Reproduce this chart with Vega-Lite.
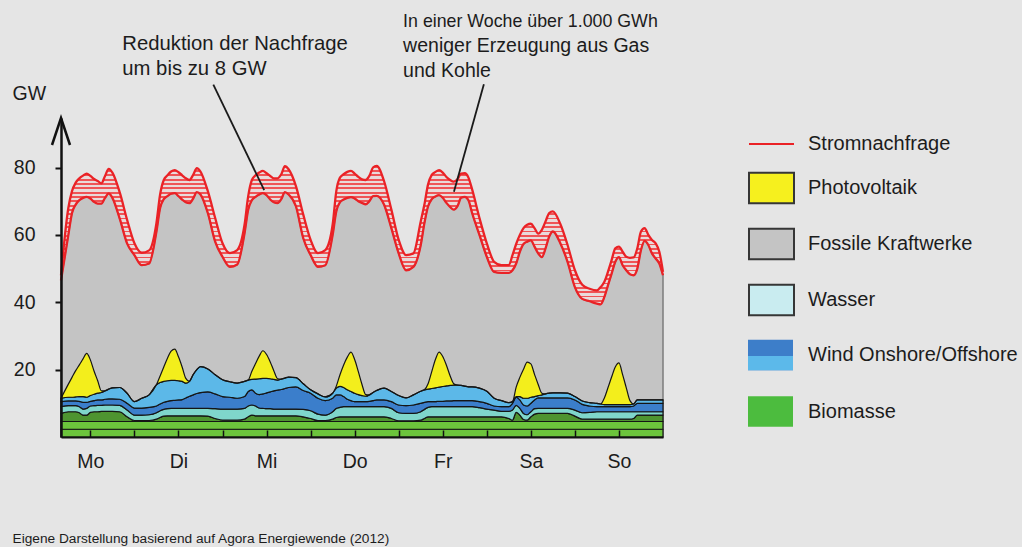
{
"$schema":"https://vega.github.io/schema/vega-lite/v6.json",
"width":602,"height":319,
"autosize":{"type":"none"},
"padding":{"left":61,"top":118,"right":359,"bottom":110},
"background":"#e5e5e5",
"config":{"view":{"stroke":null},"font":"Liberation Sans","axis":{"labelFont":"Liberation Sans","titleFont":"Liberation Sans","grid":false},"legend":{"labelFont":"Liberation Sans","labelLimit":400}},
"resolve":{"scale":{"color":"independent"}},
"datasets":{
"gen":[
{"h":4,"d":48,"r":46.5,"bio1":2.3,"bio2":2.3,"bio3":2.4,"hydro":2,"land":1.5,"offshore":1,"pv":0},
{"h":6,"d":68,"r":60,"bio1":2.3,"bio2":2.3,"bio3":2.9,"hydro":1.8,"land":1.4,"offshore":1.1,"pv":3.9},
{"h":7,"d":73,"r":66.5,"bio1":2.3,"bio2":2.3,"bio3":2.9,"hydro":1.8,"land":1.4,"offshore":1.1,"pv":5.9},
{"h":8,"d":75.5,"r":69,"bio1":2.3,"bio2":2.3,"bio3":2.9,"hydro":1.8,"land":1.4,"offshore":1.2,"pv":7.8},
{"h":9,"d":76.8,"r":70.3,"bio1":2.3,"bio2":2.3,"bio3":2.6,"hydro":1.8,"land":1.6,"offshore":1.4,"pv":9.4},
{"h":10,"d":77.6,"r":71,"bio1":2.3,"bio2":2.3,"bio3":1.9,"hydro":1.8,"land":2,"offshore":1.7,"pv":11.2},
{"h":11,"d":78.2,"r":71.3,"bio1":2.3,"bio2":2.3,"bio3":1.9,"hydro":2,"land":1.8,"offshore":1.5,"pv":13},
{"h":12,"d":77.5,"r":70.8,"bio1":2.3,"bio2":2.3,"bio3":2.7,"hydro":1.9,"land":1.4,"offshore":1.7,"pv":10.6},
{"h":13,"d":76.6,"r":69.8,"bio1":2.3,"bio2":2.3,"bio3":2.9,"hydro":1.8,"land":1.5,"offshore":1.9,"pv":6.9},
{"h":14,"d":76,"r":69.3,"bio1":2.3,"bio2":2.3,"bio3":2.9,"hydro":1.9,"land":1.6,"offshore":2,"pv":3.7},
{"h":15,"d":75.3,"r":69.3,"bio1":2.3,"bio2":2.3,"bio3":3,"hydro":1.8,"land":1.6,"offshore":2.2,"pv":0.5},
{"h":16,"d":77.5,"r":71,"bio1":2.3,"bio2":2.3,"bio3":3,"hydro":1.9,"land":1.7,"offshore":2.5,"pv":0},
{"h":17,"d":79.6,"r":72.3,"bio1":2.3,"bio2":2.3,"bio3":3,"hydro":1.9,"land":1.8,"offshore":2.9,"pv":0},
{"h":18,"d":78.5,"r":71,"bio1":2.3,"bio2":2.3,"bio3":3,"hydro":1.9,"land":1.8,"offshore":3.3,"pv":0},
{"h":20,"d":72.6,"r":64.8,"bio1":2.3,"bio2":2.3,"bio3":2.9,"hydro":1.9,"land":1.8,"offshore":3.5,"pv":0},
{"h":22,"d":64.5,"r":57.5,"bio1":2.3,"bio2":2.3,"bio3":1.4,"hydro":2,"land":2,"offshore":3,"pv":0},
{"h":24,"d":57.5,"r":54,"bio1":2.3,"bio2":2.3,"bio3":0.3,"hydro":1.6,"land":2.1,"offshore":1.9,"pv":0},
{"h":26,"d":54.7,"r":51,"bio1":2.3,"bio2":2.3,"bio3":0.3,"hydro":1.6,"land":2.1,"offshore":2.9,"pv":0},
{"h":28,"d":55.4,"r":51.5,"bio1":2.3,"bio2":2.3,"bio3":0.3,"hydro":1.7,"land":2.2,"offshore":3.7,"pv":0},
{"h":30,"d":63.5,"r":61,"bio1":2.3,"bio2":2.3,"bio3":0.7,"hydro":1.9,"land":2,"offshore":6.3,"pv":0},
{"h":31,"d":72,"r":68,"bio1":2.3,"bio2":2.3,"bio3":1.2,"hydro":2,"land":2,"offshore":6.4,"pv":1.9},
{"h":32,"d":76.3,"r":70.6,"bio1":2.3,"bio2":2.3,"bio3":1.6,"hydro":2,"land":2.1,"offshore":6.2,"pv":4.3},
{"h":33,"d":77.7,"r":71.5,"bio1":2.3,"bio2":2.3,"bio3":1.7,"hydro":2.1,"land":2.2,"offshore":6.1,"pv":6.7},
{"h":34,"d":78.8,"r":72.2,"bio1":2.3,"bio2":2.3,"bio3":1.7,"hydro":2.2,"land":2.3,"offshore":6,"pv":8.7},
{"h":35,"d":79.2,"r":72.4,"bio1":2.3,"bio2":2.3,"bio3":1.7,"hydro":2.2,"land":2.4,"offshore":5.9,"pv":9.3},
{"h":36,"d":78.6,"r":71.5,"bio1":2.3,"bio2":2.3,"bio3":1.7,"hydro":2.2,"land":2.5,"offshore":5.7,"pv":7.1},
{"h":37,"d":77.7,"r":70.5,"bio1":2.3,"bio2":2.3,"bio3":1.7,"hydro":2.2,"land":2.6,"offshore":5.4,"pv":4.3},
{"h":38,"d":76.8,"r":69.7,"bio1":2.3,"bio2":2.3,"bio3":1.7,"hydro":2.2,"land":3.1,"offshore":4.4,"pv":1.4},
{"h":39,"d":76.3,"r":69.4,"bio1":2.3,"bio2":2.3,"bio3":1.7,"hydro":2.2,"land":3.6,"offshore":4.4,"pv":0},
{"h":40,"d":77.8,"r":70.8,"bio1":2.3,"bio2":2.3,"bio3":1.7,"hydro":2.2,"land":4,"offshore":6,"pv":0},
{"h":41,"d":79.8,"r":72.7,"bio1":2.3,"bio2":2.3,"bio3":1.7,"hydro":2.2,"land":4.4,"offshore":7.1,"pv":0},
{"h":42,"d":78.8,"r":72,"bio1":2.3,"bio2":2.3,"bio3":1.7,"hydro":2.2,"land":4.7,"offshore":7.7,"pv":0},
{"h":44,"d":73,"r":66.5,"bio1":2.3,"bio2":2.3,"bio3":1.6,"hydro":2.3,"land":4.9,"offshore":6.8,"pv":0},
{"h":46,"d":65,"r":58,"bio1":2.3,"bio2":2.3,"bio3":0.9,"hydro":2.9,"land":4.4,"offshore":5.7,"pv":0},
{"h":48,"d":57.5,"r":53.5,"bio1":2.3,"bio2":2.3,"bio3":0.4,"hydro":3.3,"land":3.7,"offshore":5,"pv":0},
{"h":50,"d":54.6,"r":50.5,"bio1":2.3,"bio2":2.3,"bio3":0.4,"hydro":3.3,"land":3.5,"offshore":4.6,"pv":0},
{"h":52,"d":55.5,"r":51.2,"bio1":2.3,"bio2":2.3,"bio3":0.4,"hydro":3.3,"land":3.2,"offshore":4.5,"pv":0},
{"h":54,"d":63,"r":60.5,"bio1":2.3,"bio2":2.3,"bio3":0.7,"hydro":3.2,"land":3.5,"offshore":4.5,"pv":0},
{"h":55,"d":71.5,"r":67.5,"bio1":2.3,"bio2":2.3,"bio3":1.4,"hydro":3.2,"land":4.3,"offshore":3.4,"pv":0},
{"h":56,"d":76.3,"r":70.3,"bio1":2.3,"bio2":2.3,"bio3":1.9,"hydro":3,"land":4.5,"offshore":3.1,"pv":2.4},
{"h":57,"d":77.7,"r":71.3,"bio1":2.3,"bio2":2.3,"bio3":1.7,"hydro":2.9,"land":3.8,"offshore":4.2,"pv":4.6},
{"h":58,"d":78.5,"r":72,"bio1":2.3,"bio2":2.3,"bio3":1.7,"hydro":2.3,"land":4,"offshore":4.7,"pv":6.7},
{"h":59,"d":79,"r":72.4,"bio1":2.3,"bio2":2.3,"bio3":1.7,"hydro":2.2,"land":4.3,"offshore":4.6,"pv":8.2},
{"h":60,"d":78.3,"r":71.8,"bio1":2.3,"bio2":2.3,"bio3":1.7,"hydro":2.1,"land":4.7,"offshore":4.3,"pv":7.1},
{"h":61,"d":77.5,"r":70.5,"bio1":2.3,"bio2":2.3,"bio3":1.7,"hydro":2.1,"land":5,"offshore":3.9,"pv":5},
{"h":62,"d":76.8,"r":69.7,"bio1":2.3,"bio2":2.3,"bio3":1.7,"hydro":2,"land":5.4,"offshore":3.4,"pv":2.5},
{"h":63,"d":76.8,"r":69.4,"bio1":2.3,"bio2":2.3,"bio3":1.7,"hydro":2,"land":5.6,"offshore":3,"pv":0.4},
{"h":64,"d":78,"r":70.6,"bio1":2.3,"bio2":2.3,"bio3":1.7,"hydro":2,"land":5.8,"offshore":3.1,"pv":0},
{"h":65,"d":80.4,"r":72.7,"bio1":2.3,"bio2":2.3,"bio3":1.7,"hydro":2,"land":6.1,"offshore":3.1,"pv":0},
{"h":66,"d":79.5,"r":72,"bio1":2.3,"bio2":2.3,"bio3":1.7,"hydro":2,"land":6.4,"offshore":3.1,"pv":0},
{"h":68,"d":74.5,"r":68.5,"bio1":2.3,"bio2":2.3,"bio3":1.7,"hydro":2,"land":6.6,"offshore":2.7,"pv":0},
{"h":70,"d":66,"r":59,"bio1":2.3,"bio2":2.3,"bio3":1.4,"hydro":2.2,"land":5.6,"offshore":2,"pv":0},
{"h":72,"d":58.5,"r":54,"bio1":2.3,"bio2":2.3,"bio3":0.9,"hydro":2.3,"land":5.2,"offshore":1,"pv":0},
{"h":74,"d":54.6,"r":50.5,"bio1":2.3,"bio2":2.3,"bio3":0.3,"hydro":1.9,"land":4.7,"offshore":1.3,"pv":0},
{"h":76,"d":55.5,"r":51,"bio1":2.3,"bio2":2.3,"bio3":0.3,"hydro":1.6,"land":4.3,"offshore":1.1,"pv":0},
{"h":78,"d":63,"r":60,"bio1":2.3,"bio2":2.3,"bio3":0.7,"hydro":2.2,"land":4,"offshore":1.5,"pv":0},
{"h":79,"d":73,"r":67,"bio1":2.3,"bio2":2.3,"bio3":1.2,"hydro":2.7,"land":4,"offshore":2,"pv":0.6},
{"h":80,"d":77,"r":69.7,"bio1":2.3,"bio2":2.3,"bio3":1.4,"hydro":2.8,"land":3.7,"offshore":2.5,"pv":3.5},
{"h":81,"d":78,"r":70.5,"bio1":2.3,"bio2":2.3,"bio3":1.4,"hydro":3,"land":3,"offshore":2.7,"pv":6.7},
{"h":82,"d":78.7,"r":71,"bio1":2.3,"bio2":2.3,"bio3":1.4,"hydro":3,"land":2.2,"offshore":2.8,"pv":9.7},
{"h":83,"d":79,"r":71.2,"bio1":2.3,"bio2":2.3,"bio3":1.4,"hydro":3,"land":1.8,"offshore":2.7,"pv":11.7},
{"h":84,"d":78.2,"r":70.8,"bio1":2.3,"bio2":2.3,"bio3":1.4,"hydro":3,"land":1.5,"offshore":2.5,"pv":10},
{"h":85,"d":77.2,"r":70,"bio1":2.3,"bio2":2.3,"bio3":1.4,"hydro":3,"land":1.5,"offshore":2.1,"pv":6.8},
{"h":86,"d":76.5,"r":69.5,"bio1":2.3,"bio2":2.3,"bio3":1.4,"hydro":3,"land":1.5,"offshore":1.8,"pv":3.3},
{"h":87,"d":76.3,"r":69.1,"bio1":2.3,"bio2":2.3,"bio3":1.4,"hydro":3,"land":1.5,"offshore":1.6,"pv":0.5},
{"h":88,"d":77.5,"r":70,"bio1":2.3,"bio2":2.3,"bio3":1.4,"hydro":3,"land":1.6,"offshore":1.9,"pv":0},
{"h":89,"d":80,"r":71.5,"bio1":2.3,"bio2":2.3,"bio3":1.4,"hydro":3,"land":1.8,"offshore":2.4,"pv":0},
{"h":90,"d":80.5,"r":71.6,"bio1":2.3,"bio2":2.3,"bio3":1.4,"hydro":3,"land":2,"offshore":2.8,"pv":0},
{"h":92,"d":76,"r":69,"bio1":2.3,"bio2":2.3,"bio3":1.4,"hydro":3,"land":2,"offshore":3.5,"pv":0},
{"h":94,"d":67.5,"r":62,"bio1":2.3,"bio2":2.3,"bio3":0.9,"hydro":3,"land":2,"offshore":3,"pv":0},
{"h":96,"d":58.5,"r":54.5,"bio1":2.3,"bio2":2.3,"bio3":0.2,"hydro":2.4,"land":2.3,"offshore":2.8,"pv":0},
{"h":98,"d":54,"r":49.5,"bio1":2.3,"bio2":2.3,"bio3":0.2,"hydro":2.2,"land":2.3,"offshore":2.3,"pv":0},
{"h":100,"d":54.5,"r":50.5,"bio1":2.3,"bio2":2.3,"bio3":0.2,"hydro":2.2,"land":2.5,"offshore":3,"pv":0},
{"h":102,"d":64,"r":57,"bio1":2.3,"bio2":2.3,"bio3":0.4,"hydro":2.5,"land":2.5,"offshore":3.6,"pv":0},
{"h":103,"d":69,"r":63.5,"bio1":2.3,"bio2":2.3,"bio3":0.9,"hydro":2.7,"land":2.1,"offshore":3.7,"pv":0},
{"h":104,"d":75,"r":68.5,"bio1":2.3,"bio2":2.3,"bio3":1.4,"hydro":2.8,"land":1.7,"offshore":3.7,"pv":1.6},
{"h":105,"d":77.8,"r":70.6,"bio1":2.3,"bio2":2.3,"bio3":1.4,"hydro":3,"land":1.5,"offshore":3.9,"pv":5},
{"h":106,"d":78.7,"r":71.4,"bio1":2.3,"bio2":2.3,"bio3":1.4,"hydro":3,"land":1.5,"offshore":4.1,"pv":8.4},
{"h":107,"d":79.2,"r":71.8,"bio1":2.3,"bio2":2.3,"bio3":1.4,"hydro":3,"land":1.6,"offshore":4.2,"pv":10.4},
{"h":108,"d":78.5,"r":71,"bio1":2.3,"bio2":2.3,"bio3":1.4,"hydro":3,"land":1.6,"offshore":4.4,"pv":8.9},
{"h":109,"d":77.2,"r":69.5,"bio1":2.3,"bio2":2.3,"bio3":1.4,"hydro":3,"land":1.7,"offshore":4.5,"pv":6.1},
{"h":110,"d":76.3,"r":68.3,"bio1":2.3,"bio2":2.3,"bio3":1.4,"hydro":3,"land":1.7,"offshore":4.6,"pv":2.9},
{"h":111,"d":75.8,"r":67.5,"bio1":2.3,"bio2":2.3,"bio3":1.4,"hydro":3,"land":1.8,"offshore":4.6,"pv":0.4},
{"h":112,"d":76.5,"r":68.5,"bio1":2.3,"bio2":2.3,"bio3":1.4,"hydro":3,"land":1.8,"offshore":4.6,"pv":0},
{"h":113,"d":78.2,"r":71,"bio1":2.3,"bio2":2.3,"bio3":1.4,"hydro":3,"land":1.8,"offshore":4.5,"pv":0},
{"h":114,"d":78.3,"r":71.3,"bio1":2.3,"bio2":2.3,"bio3":1.4,"hydro":3,"land":1.8,"offshore":4.3,"pv":0},
{"h":115,"d":77,"r":70.3,"bio1":2.3,"bio2":2.3,"bio3":1.4,"hydro":3,"land":1.8,"offshore":4.1,"pv":0},
{"h":116,"d":73.5,"r":66.5,"bio1":2.3,"bio2":2.3,"bio3":1.4,"hydro":3,"land":1.8,"offshore":4.1,"pv":0},
{"h":118,"d":65,"r":60,"bio1":2.3,"bio2":2.3,"bio3":1.4,"hydro":2.7,"land":1.8,"offshore":4,"pv":0},
{"h":120,"d":57.5,"r":53.5,"bio1":2.3,"bio2":2.3,"bio3":1.4,"hydro":2.3,"land":1.7,"offshore":3.6,"pv":0},
{"h":122,"d":52,"r":49,"bio1":2.3,"bio2":2.3,"bio3":1.4,"hydro":2,"land":1.2,"offshore":2.3,"pv":0},
{"h":124,"d":51,"r":48.7,"bio1":2.3,"bio2":2.3,"bio3":1.4,"hydro":1.6,"land":1.4,"offshore":1.8,"pv":0},
{"h":126,"d":51,"r":48.7,"bio1":2.3,"bio2":2.3,"bio3":0.9,"hydro":2.1,"land":1.4,"offshore":1.2,"pv":0},
{"h":127,"d":54,"r":49.5,"bio1":2.3,"bio2":2.3,"bio3":0.4,"hydro":3,"land":2,"offshore":0.5,"pv":0},
{"h":128,"d":57.3,"r":51.5,"bio1":2.3,"bio2":2.3,"bio3":2.7,"hydro":2.1,"land":2.4,"offshore":0.2,"pv":2.8},
{"h":129,"d":60,"r":55,"bio1":2.3,"bio2":2.3,"bio3":1.9,"hydro":2,"land":2.5,"offshore":1,"pv":5.7},
{"h":130,"d":62,"r":57.3,"bio1":2.3,"bio2":2.3,"bio3":0.6,"hydro":1.8,"land":2.5,"offshore":2,"pv":8.6},
{"h":131,"d":63,"r":58,"bio1":2.3,"bio2":2.3,"bio3":0.4,"hydro":1.6,"land":2.6,"offshore":2.3,"pv":10.7},
{"h":132,"d":63.3,"r":58.4,"bio1":2.3,"bio2":2.3,"bio3":1.4,"hydro":1.5,"land":2.5,"offshore":1.8,"pv":9.9},
{"h":133,"d":62,"r":56.5,"bio1":2.3,"bio2":2.3,"bio3":2.2,"hydro":1.6,"land":2.6,"offshore":1,"pv":6.6},
{"h":134,"d":60.4,"r":54.5,"bio1":2.3,"bio2":2.3,"bio3":2.4,"hydro":1.5,"land":3.1,"offshore":0.7,"pv":3.3},
{"h":135,"d":61.5,"r":53.4,"bio1":2.3,"bio2":2.3,"bio3":2.4,"hydro":1.5,"land":3.1,"offshore":0.9,"pv":0.5},
{"h":136,"d":64,"r":56,"bio1":2.3,"bio2":2.3,"bio3":2.4,"hydro":1.5,"land":3.1,"offshore":1.2,"pv":0},
{"h":137,"d":66.5,"r":59.5,"bio1":2.3,"bio2":2.3,"bio3":2.4,"hydro":1.5,"land":3.1,"offshore":1.4,"pv":0},
{"h":138,"d":67,"r":61,"bio1":2.3,"bio2":2.3,"bio3":2.4,"hydro":1.5,"land":3.1,"offshore":1.5,"pv":0},
{"h":140,"d":63.3,"r":57.6,"bio1":2.3,"bio2":2.3,"bio3":2.4,"hydro":1.5,"land":3.1,"offshore":1.5,"pv":0},
{"h":142,"d":57,"r":52,"bio1":2.3,"bio2":2.3,"bio3":2.4,"hydro":1.5,"land":3.1,"offshore":1.4,"pv":0},
{"h":144,"d":49.5,"r":44.5,"bio1":2.3,"bio2":2.3,"bio3":1.6,"hydro":1.8,"land":3,"offshore":1,"pv":0},
{"h":146,"d":45.2,"r":41,"bio1":2.3,"bio2":2.3,"bio3":0.7,"hydro":1.9,"land":2.5,"offshore":1,"pv":0},
{"h":148,"d":44,"r":40.3,"bio1":2.3,"bio2":2.3,"bio3":0.7,"hydro":2,"land":1.9,"offshore":1,"pv":0},
{"h":150,"d":43.5,"r":39.6,"bio1":2.3,"bio2":2.3,"bio3":0.7,"hydro":2.2,"land":1.5,"offshore":1,"pv":0},
{"h":151,"d":44.5,"r":39.4,"bio1":2.3,"bio2":2.3,"bio3":0.7,"hydro":2.2,"land":1.5,"offshore":0.8,"pv":0},
{"h":152,"d":46,"r":41.5,"bio1":2.3,"bio2":2.3,"bio3":0.7,"hydro":2.2,"land":1.5,"offshore":0.6,"pv":1.9},
{"h":153,"d":49,"r":45,"bio1":2.3,"bio2":2.3,"bio3":0.7,"hydro":2.2,"land":1.5,"offshore":0.6,"pv":5},
{"h":154,"d":52.5,"r":48.5,"bio1":2.3,"bio2":2.3,"bio3":0.7,"hydro":2.2,"land":1.5,"offshore":0.6,"pv":8.2},
{"h":155,"d":56,"r":52,"bio1":2.3,"bio2":2.3,"bio3":0.7,"hydro":2.2,"land":1.5,"offshore":0.6,"pv":11.2},
{"h":156,"d":56.5,"r":53.4,"bio1":2.3,"bio2":2.3,"bio3":0.7,"hydro":2.2,"land":1.5,"offshore":0.6,"pv":12.4},
{"h":157,"d":55,"r":51,"bio1":2.3,"bio2":2.3,"bio3":0.7,"hydro":2.2,"land":1.5,"offshore":0.6,"pv":8.9},
{"h":158,"d":53.5,"r":49.5,"bio1":2.3,"bio2":2.3,"bio3":0.7,"hydro":2.2,"land":1.5,"offshore":0.6,"pv":5},
{"h":159,"d":53.2,"r":48.3,"bio1":2.3,"bio2":2.3,"bio3":0.7,"hydro":2.2,"land":1.5,"offshore":0.6,"pv":1.2},
{"h":160,"d":53.3,"r":48,"bio1":2.3,"bio2":2.3,"bio3":0.9,"hydro":2,"land":1.7,"offshore":0.6,"pv":0},
{"h":161,"d":56,"r":50,"bio1":2.3,"bio2":2.3,"bio3":1.9,"hydro":1,"land":2.5,"offshore":1,"pv":0},
{"h":162,"d":61,"r":55.5,"bio1":2.3,"bio2":2.3,"bio3":1.9,"hydro":1,"land":2.5,"offshore":1,"pv":0},
{"h":163,"d":62,"r":58.2,"bio1":2.3,"bio2":2.3,"bio3":1.9,"hydro":1,"land":2.5,"offshore":1,"pv":0},
{"h":164,"d":60,"r":57,"bio1":2.3,"bio2":2.3,"bio3":1.9,"hydro":1,"land":2.5,"offshore":1,"pv":0},
{"h":165,"d":58.5,"r":54.5,"bio1":2.3,"bio2":2.3,"bio3":1.9,"hydro":1,"land":2.5,"offshore":1,"pv":0},
{"h":166,"d":57.5,"r":53,"bio1":2.3,"bio2":2.3,"bio3":1.9,"hydro":1,"land":2.5,"offshore":1,"pv":0},
{"h":167,"d":55,"r":51.5,"bio1":2.3,"bio2":2.3,"bio3":1.9,"hydro":1,"land":2.5,"offshore":1,"pv":0},
{"h":168,"d":49,"r":48,"bio1":2.3,"bio2":2.3,"bio3":1.9,"hydro":1,"land":2.5,"offshore":1,"pv":0}
],
"boxesA":[{"name":"Photovoltaik"},{"name":"Fossile Kraftwerke"},{"name":"Wasser"}],
"boxesB":[{"name":"Wind Onshore/Offshore"},{"name":"Biomasse"}]
},
"layer":[
{"data":{"name":"gen"},
 "mark":{"type":"area","fill":"#c4c4c4","stroke":"#7c7c7c","strokeWidth":1.5,"interpolate":"monotone"},
 "encoding":{
  "x":{"field":"h","type":"quantitative","title":null,"scale":{"domain":[4,168],"nice":false,"zero":false},
   "axis":{"values":[12,24,36,48,60,72,84,96,108,120,132,144,156],"labelExpr":"datum.value % 24 == 12 ? ['Mo','Di','Mi','Do','Fr','Sa','So'][floor(datum.value / 24)] : ''","tickSize":-7,"tickWidth":1.5,"tickColor":"#111111","domainColor":"#111111","domainWidth":2,"labelFontSize":19.5,"labelColor":"#1c1c1c","labelPadding":22,"labelFlush":false,"labelOverlap":false,"zindex":1}},
  "y":{"field":"r","type":"quantitative","title":"GW","scale":{"domain":[0,94.7],"nice":false},
   "axis":{"values":[20,40,60,80],"tickSize":6,"tickWidth":2,"tickColor":"#111111","domainColor":"#111111","domainWidth":2.5,"labelFontSize":19.5,"labelColor":"#1c1c1c","labelPadding":20,"titleAngle":0,"titleX":-49,"titleY":-25,"titleAlign":"left","titleBaseline":"middle","titleFontSize":19.5,"titleFontWeight":"normal","titleColor":"#1c1c1c","zindex":1}}
 }},
{"data":{"name":"gen"},
 "mark":{"type":"area","interpolate":"monotone","fill":{"gradient":"linear","x1":0,"y1":0,"x2":0,"y2":1,"stops":[
{"offset":0,"color":"#ef5456"},{"offset":0.0125,"color":"#ef5456"},{"offset":0.0125,"color":"#e9dada"},{"offset":0.03125,"color":"#e9dada"},
{"offset":0.03125,"color":"#ef5456"},{"offset":0.04375,"color":"#ef5456"},{"offset":0.04375,"color":"#e9dada"},{"offset":0.0625,"color":"#e9dada"},
{"offset":0.0625,"color":"#ef5456"},{"offset":0.075,"color":"#ef5456"},{"offset":0.075,"color":"#e9dada"},{"offset":0.09375,"color":"#e9dada"},
{"offset":0.09375,"color":"#ef5456"},{"offset":0.10625,"color":"#ef5456"},{"offset":0.10625,"color":"#e9dada"},{"offset":0.125,"color":"#e9dada"},
{"offset":0.125,"color":"#ef5456"},{"offset":0.1375,"color":"#ef5456"},{"offset":0.1375,"color":"#e9dada"},{"offset":0.15625,"color":"#e9dada"},
{"offset":0.15625,"color":"#ef5456"},{"offset":0.16875,"color":"#ef5456"},{"offset":0.16875,"color":"#e9dada"},{"offset":0.1875,"color":"#e9dada"},
{"offset":0.1875,"color":"#ef5456"},{"offset":0.2,"color":"#ef5456"},{"offset":0.2,"color":"#e9dada"},{"offset":0.21875,"color":"#e9dada"},
{"offset":0.21875,"color":"#ef5456"},{"offset":0.23125,"color":"#ef5456"},{"offset":0.23125,"color":"#e9dada"},{"offset":0.25,"color":"#e9dada"},
{"offset":0.25,"color":"#ef5456"},{"offset":0.2625,"color":"#ef5456"},{"offset":0.2625,"color":"#e9dada"},{"offset":0.28125,"color":"#e9dada"},
{"offset":0.28125,"color":"#ef5456"},{"offset":0.29375,"color":"#ef5456"},{"offset":0.29375,"color":"#e9dada"},{"offset":0.3125,"color":"#e9dada"},
{"offset":0.3125,"color":"#ef5456"},{"offset":0.325,"color":"#ef5456"},{"offset":0.325,"color":"#e9dada"},{"offset":0.34375,"color":"#e9dada"},
{"offset":0.34375,"color":"#ef5456"},{"offset":0.35625,"color":"#ef5456"},{"offset":0.35625,"color":"#e9dada"},{"offset":0.375,"color":"#e9dada"},
{"offset":0.375,"color":"#ef5456"},{"offset":0.3875,"color":"#ef5456"},{"offset":0.3875,"color":"#e9dada"},{"offset":0.40625,"color":"#e9dada"},
{"offset":0.40625,"color":"#ef5456"},{"offset":0.41875,"color":"#ef5456"},{"offset":0.41875,"color":"#e9dada"},{"offset":0.4375,"color":"#e9dada"},
{"offset":0.4375,"color":"#ef5456"},{"offset":0.45,"color":"#ef5456"},{"offset":0.45,"color":"#e9dada"},{"offset":0.46875,"color":"#e9dada"},
{"offset":0.46875,"color":"#ef5456"},{"offset":0.48125,"color":"#ef5456"},{"offset":0.48125,"color":"#e9dada"},{"offset":0.5,"color":"#e9dada"},
{"offset":0.5,"color":"#ef5456"},{"offset":0.5125,"color":"#ef5456"},{"offset":0.5125,"color":"#e9dada"},{"offset":0.53125,"color":"#e9dada"},
{"offset":0.53125,"color":"#ef5456"},{"offset":0.54375,"color":"#ef5456"},{"offset":0.54375,"color":"#e9dada"},{"offset":0.5625,"color":"#e9dada"},
{"offset":0.5625,"color":"#ef5456"},{"offset":0.575,"color":"#ef5456"},{"offset":0.575,"color":"#e9dada"},{"offset":0.59375,"color":"#e9dada"},
{"offset":0.59375,"color":"#ef5456"},{"offset":0.60625,"color":"#ef5456"},{"offset":0.60625,"color":"#e9dada"},{"offset":0.625,"color":"#e9dada"},
{"offset":0.625,"color":"#ef5456"},{"offset":0.6375,"color":"#ef5456"},{"offset":0.6375,"color":"#e9dada"},{"offset":0.65625,"color":"#e9dada"},
{"offset":0.65625,"color":"#ef5456"},{"offset":0.66875,"color":"#ef5456"},{"offset":0.66875,"color":"#e9dada"},{"offset":0.6875,"color":"#e9dada"},
{"offset":0.6875,"color":"#ef5456"},{"offset":0.7,"color":"#ef5456"},{"offset":0.7,"color":"#e9dada"},{"offset":0.71875,"color":"#e9dada"},
{"offset":0.71875,"color":"#ef5456"},{"offset":0.73125,"color":"#ef5456"},{"offset":0.73125,"color":"#e9dada"},{"offset":0.75,"color":"#e9dada"},
{"offset":0.75,"color":"#ef5456"},{"offset":0.7625,"color":"#ef5456"},{"offset":0.7625,"color":"#e9dada"},{"offset":0.78125,"color":"#e9dada"},
{"offset":0.78125,"color":"#ef5456"},{"offset":0.79375,"color":"#ef5456"},{"offset":0.79375,"color":"#e9dada"},{"offset":0.8125,"color":"#e9dada"},
{"offset":0.8125,"color":"#ef5456"},{"offset":0.825,"color":"#ef5456"},{"offset":0.825,"color":"#e9dada"},{"offset":0.84375,"color":"#e9dada"},
{"offset":0.84375,"color":"#ef5456"},{"offset":0.85625,"color":"#ef5456"},{"offset":0.85625,"color":"#e9dada"},{"offset":0.875,"color":"#e9dada"},
{"offset":0.875,"color":"#ef5456"},{"offset":0.8875,"color":"#ef5456"},{"offset":0.8875,"color":"#e9dada"},{"offset":0.90625,"color":"#e9dada"},
{"offset":0.90625,"color":"#ef5456"},{"offset":0.91875,"color":"#ef5456"},{"offset":0.91875,"color":"#e9dada"},{"offset":0.9375,"color":"#e9dada"},
{"offset":0.9375,"color":"#ef5456"},{"offset":0.95,"color":"#ef5456"},{"offset":0.95,"color":"#e9dada"},{"offset":0.96875,"color":"#e9dada"},
{"offset":0.96875,"color":"#ef5456"},{"offset":0.98125,"color":"#ef5456"},{"offset":0.98125,"color":"#e9dada"},{"offset":1,"color":"#e9dada"}
 ]}},
 "encoding":{"x":{"field":"h","type":"quantitative","title":null},"y":{"field":"d","type":"quantitative","title":"GW"},"y2":{"field":"r"}}},
{"data":{"name":"gen"},
 "transform":[{"fold":["bio1","bio2","bio3","hydro","land","offshore","pv"],"as":["src","gw"]}],
 "mark":{"type":"area","stroke":"#151515","strokeWidth":1.2,"strokeJoin":"round","interpolate":"monotone"},
 "encoding":{
  "x":{"field":"h","type":"quantitative","title":null},
  "y":{"field":"gw","type":"quantitative","stack":"zero","title":"GW"},
  "color":{"field":"src","type":"nominal","scale":{"domain":["bio1","bio2","bio3","hydro","land","offshore","pv"],"range":["#6cc43c","#6cc43c","#4e9430","#7fd6cb","#3b7ecb","#5cb8e8","#f3ee1c"]},"legend":null},
  "order":{"field":"src","type":"ordinal"}
 }},
{"data":{"name":"gen"},
 "transform":[{"fold":["d","r"],"as":["series","v"]}],
 "mark":{"type":"line","strokeWidth":2.3,"interpolate":"monotone"},
 "encoding":{
  "x":{"field":"h","type":"quantitative","title":null},
  "y":{"field":"v","type":"quantitative","title":"GW"},
  "detail":{"field":"series","type":"nominal"},
  "stroke":{"datum":"Stromnachfrage","type":"nominal","scale":{"domain":["Stromnachfrage"],"range":["#ea2226"]},
   "legend":{"title":null,"orient":"none","legendX":687,"legendY":2.5,"symbolType":"stroke","symbolSize":2025,"symbolStrokeWidth":2,"labelFontSize":20,"labelColor":"#1c1c1c","labelOffset":13,"padding":0}}
 }},
{"data":{"values":[{}]},
 "mark":{"type":"point","shape":"M-0.333,1L0,0L0.333,1","filled":false,"stroke":"#111111","strokeWidth":2.5,"size":2916,"opacity":1},
 "encoding":{"x":{"datum":4,"type":"quantitative"},"y":{"datum":94.7,"type":"quantitative"}}},
{"data":{"values":[{}]},
 "mark":{"type":"rule","stroke":"#1a1a1a","strokeWidth":1.8},
 "encoding":{"x":{"datum":45.5,"type":"quantitative"},"y":{"datum":104.6,"type":"quantitative"},"x2":{"datum":59.35},"y2":{"datum":73.3}}},
{"data":{"values":[{}]},
 "mark":{"type":"rule","stroke":"#1a1a1a","strokeWidth":1.8},
 "encoding":{"x":{"datum":119.2,"type":"quantitative"},"y":{"datum":104.7,"type":"quantitative"},"x2":{"datum":111.05},"y2":{"datum":72.8}}},
{"data":{"values":[{}]},
 "mark":{"type":"text","text":["Reduktion der Nachfrage","um bis zu 8 GW"],"align":"left","baseline":"alphabetic","lineHeight":25,"fontSize":20.3,"color":"#1c1c1c","font":"Liberation Sans"},
 "encoding":{"x":{"datum":20.7,"type":"quantitative"},"y":{"datum":114.8,"type":"quantitative"}}},
{"data":{"values":[{}]},
 "mark":{"type":"text","text":"In  einer Woche über 1.000 GWh","align":"left","baseline":"alphabetic","fontSize":17.8,"color":"#1c1c1c","font":"Liberation Sans"},
 "encoding":{"x":{"datum":97.2,"type":"quantitative"},"y":{"datum":121.7,"type":"quantitative"}}},
{"data":{"values":[{}]},
 "mark":{"type":"text","text":["weniger Erzeugung aus Gas","und Kohle"],"align":"left","baseline":"alphabetic","lineHeight":25,"fontSize":19.5,"color":"#1c1c1c","font":"Liberation Sans"},
 "encoding":{"x":{"datum":97.2,"type":"quantitative"},"y":{"datum":114.28,"type":"quantitative"}}},
{"data":{"values":[{}]},
 "mark":{"type":"text","text":"Eigene Darstellung basierend auf Agora Energiewende (2012)","align":"left","baseline":"alphabetic","fontSize":13.7,"color":"#1c1c1c","font":"Liberation Sans"},
 "encoding":{"x":{"datum":-9.2,"type":"quantitative"},"y":{"datum":-31.5,"type":"quantitative"}}},
{"data":{"name":"boxesA"},
 "mark":{"type":"square","opacity":0,"size":1},
 "encoding":{
  "fill":{"field":"name","type":"nominal",
   "scale":{"domain":["Photovoltaik","Fossile Kraftwerke","Wasser"],"range":["#f6f01e","#c4c4c4","#c9ecf0"]},
   "legend":{"title":null,"orient":"none","legendX":687,"legendY":46.5,"symbolType":"M-1,-0.68H1V0.68H-1Z","symbolSize":2025,"symbolStrokeColor":"#363636","symbolStrokeWidth":2,"symbolOpacity":1,"labelFontSize":20,"labelColor":"#1c1c1c","labelOffset":13,"labelLimit":400,"rowPadding":13,"padding":0}}
 }},
{"data":{"name":"boxesB"},
 "mark":{"type":"square","opacity":0,"size":1},
 "encoding":{
  "color":{"field":"name","type":"nominal",
   "scale":{"domain":["Wind Onshore/Offshore","Biomasse"],"range":["#3d7ec9","#4cbc3e"]},
   "legend":{"title":null,"orient":"none","legendX":687,"legendY":214.5,"symbolType":"M-1,-0.68H1V0.68H-1Z","symbolSize":2025,"symbolStrokeColor":"transparent","symbolStrokeWidth":0,"symbolOpacity":1,"labelFontSize":20,"labelColor":"#1c1c1c","labelOffset":15,"labelLimit":400,"rowPadding":18.5,"padding":0}}
 }},
{"data":{"values":[{}]},
 "mark":{"type":"point","filled":true,"color":"#5cb9ea","opacity":0,"size":1},
 "encoding":{
  "shape":{"datum":"Wind Onshore/Offshore","type":"nominal","scale":{"domain":["Wind Onshore/Offshore"],"range":["M-1,0.04H1V0.68H-1Z"]},
   "legend":{"title":null,"orient":"none","legendX":687,"legendY":214.5,"zindex":3,"symbolSize":2025,"symbolFillColor":"#5cb9ea","symbolStrokeColor":"transparent","symbolStrokeWidth":0,"symbolOpacity":1,"labelFontSize":20,"labelColor":"transparent","labelOpacity":0,"labelOffset":15,"labelLimit":400,"padding":0}}
 }}
]
}
